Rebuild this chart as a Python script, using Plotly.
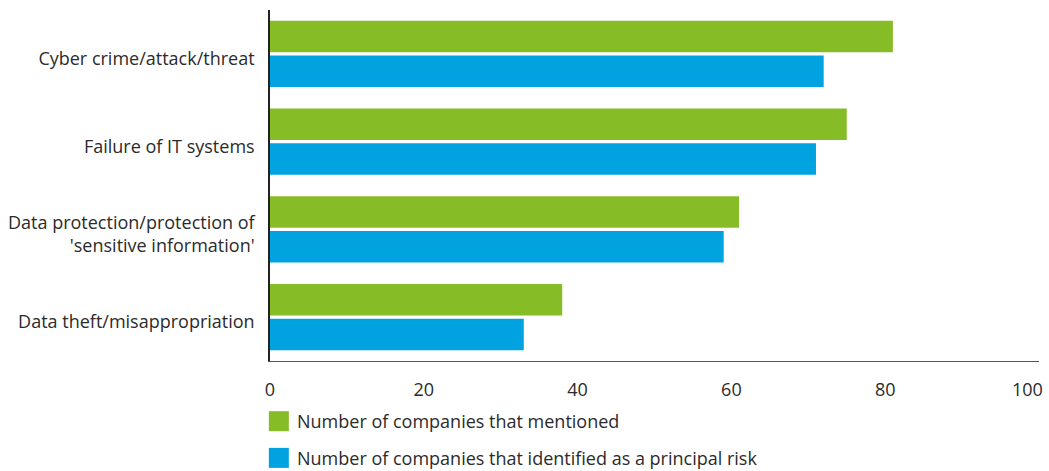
import plotly.graph_objects as go

# Categories (top to bottom) and series values
categories = [
    "Cyber crime/attack/threat",
    "Failure of IT systems",
    "Data protection/protection of<br>'sensitive information'",
    "Data theft/misappropriation",
]
mentioned = [81, 75, 61, 38]
principal_risk = [72, 71, 59, 33]
series_names = [
    "Number of companies that mentioned",
    "Number of companies that identified as a principal risk",
]
x_ticks = [0, 20, 40, 60, 80, 100]
x_ticktext = ["0", "20", "40", "60", "80", "100"]

GREEN = "#86BC25"
BLUE = "#00A3E0"
TEXT = "#2b2b2b"
FONT = "Open Sans"

fig = go.Figure()
fig.add_trace(go.Bar(y=categories, x=mentioned, orientation="h",
                     marker=dict(color=GREEN, line=dict(width=0)),
                     name=series_names[0], showlegend=False))
fig.add_trace(go.Bar(y=categories, x=principal_risk, orientation="h",
                     marker=dict(color=BLUE, line=dict(width=0)),
                     name=series_names[1], showlegend=False))

# Custom legend: coloured squares with labels below the axis
for i, (name, col) in enumerate(zip(series_names, [GREEN, BLUE])):
    y0 = -0.143 - i * 0.1045
    fig.add_shape(type="rect", xref="paper", yref="paper",
                  x0=-0.0015, x1=0.0245, y0=y0 - 0.057, y1=y0,
                  fillcolor=col, line=dict(width=0))
    fig.add_annotation(xref="paper", yref="paper", x=0.033, y=y0 - 0.0285,
                       text=name, showarrow=False, xanchor="left", yanchor="middle",
                       font=dict(family=FONT, size=18, color=TEXT))

# Last x tick label is right-aligned at the axis end so it stays on the page
fig.add_annotation(xref="x", yref="paper", x=x_ticks[-1], y=0,
                   text=x_ticktext[-1], showarrow=False,
                   xanchor="right", yanchor="middle", xshift=6, yshift=-28,
                   font=dict(family=FONT, size=18, color=TEXT))

fig.update_layout(
    width=1049, height=471,
    margin=dict(l=270, r=10, t=10, b=110),
    paper_bgcolor="white", plot_bgcolor="white",
    barmode="group", bargap=0.205, bargroupgap=0.094,
    font=dict(family=FONT, size=18, color=TEXT),
    xaxis=dict(range=[0, 100], tickvals=x_ticks[:-1], ticktext=x_ticktext[:-1],
               automargin=False, showgrid=False, zeroline=False,
               showline=True, linecolor="#555555", linewidth=1, ticks="",
               ticklabelstandoff=12, tickfont=dict(size=18, color=TEXT)),
    yaxis=dict(autorange="reversed", automargin=False, showgrid=False,
               zeroline=False, showline=True, linecolor="#222222",
               linewidth=1.5, ticks="",
               ticklabelstandoff=10, ticklabelshift=-5,
               tickfont=dict(size=18, color=TEXT)),
)

fig.write_html("out.html")
